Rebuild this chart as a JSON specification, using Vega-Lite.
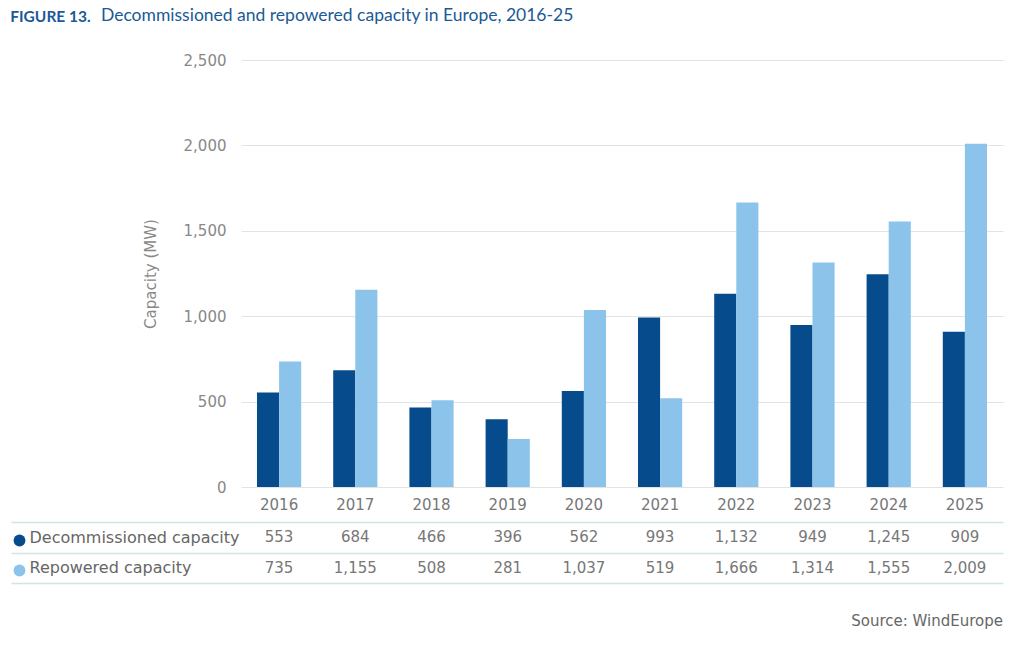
{
  "$schema": "https://vega.github.io/schema/vega-lite/v6.json",
  "padding": {"left": 10, "top": 6, "right": 20, "bottom": 5},
  "background": "white",
  "config": {"font": "DejaVu Sans", "view": {"stroke": null}, "concat": {"spacing": 2}},
  "title": {"text": "FIGURE 13.", "anchor": "start", "frame": "bounds", "font": "Lato", "fontSize": 15.5, "fontWeight": "bold", "color": "#1b5a96", "offset": -18.5},
  "data": {"values": [
    {"year": "2016", "series": "Decommissioned capacity", "value": 553},
    {"year": "2017", "series": "Decommissioned capacity", "value": 684},
    {"year": "2018", "series": "Decommissioned capacity", "value": 466},
    {"year": "2019", "series": "Decommissioned capacity", "value": 396},
    {"year": "2020", "series": "Decommissioned capacity", "value": 562},
    {"year": "2021", "series": "Decommissioned capacity", "value": 993},
    {"year": "2022", "series": "Decommissioned capacity", "value": 1132},
    {"year": "2023", "series": "Decommissioned capacity", "value": 949},
    {"year": "2024", "series": "Decommissioned capacity", "value": 1245},
    {"year": "2025", "series": "Decommissioned capacity", "value": 909},
    {"year": "2016", "series": "Repowered capacity", "value": 735},
    {"year": "2017", "series": "Repowered capacity", "value": 1155},
    {"year": "2018", "series": "Repowered capacity", "value": 508},
    {"year": "2019", "series": "Repowered capacity", "value": 281},
    {"year": "2020", "series": "Repowered capacity", "value": 1037},
    {"year": "2021", "series": "Repowered capacity", "value": 519},
    {"year": "2022", "series": "Repowered capacity", "value": 1666},
    {"year": "2023", "series": "Repowered capacity", "value": 1314},
    {"year": "2024", "series": "Repowered capacity", "value": 1555},
    {"year": "2025", "series": "Repowered capacity", "value": 2009}
  ]},
  "vconcat": [
    {
      "width": 762,
      "height": 427,
      "title": {"text": "Decommissioned and repowered capacity in Europe, 2016-25", "anchor": "start", "frame": "group", "dx": -140, "font": "Lato", "fontSize": 17.5, "fontWeight": "normal", "color": "#1b5a96", "offset": 29},
      "mark": {"type": "bar"},
      "encoding": {
        "x": {"field": "year", "type": "nominal", "scale": {"paddingInner": 0.42, "paddingOuter": 0.21},
              "axis": {"title": null, "labelAngle": 0, "domain": false, "ticks": false, "labelFontSize": 15, "labelColor": "#777", "labelPadding": 10}},
        "xOffset": {"field": "series", "type": "nominal", "scale": {"paddingInner": 0, "paddingOuter": 0}},
        "y": {"field": "value", "type": "quantitative", "scale": {"domain": [0, 2500]},
              "axis": {"values": [0, 500, 1000, 1500, 2000, 2500], "format": ",.0f", "title": "Capacity (MW)", "domain": false, "ticks": false, "labelPadding": 15, "gridColor": "#e3e3e3", "labelFontSize": 15, "labelColor": "#888", "titleFontSize": 15, "titleColor": "#888", "titleFontWeight": "normal", "titlePadding": 25}},
        "color": {"field": "series", "type": "nominal",
                  "scale": {"domain": ["Decommissioned capacity", "Repowered capacity"], "range": ["#064b8b", "#8cc3ea"]},
                  "legend": {"orient": "none", "legendX": -229, "legendY": 473, "title": null, "symbolType": "circle", "symbolSize": 140, "symbolStrokeWidth": 0, "labelExpr": "''", "labelFontSize": 15, "rowPadding": 14}}
      }
    },
    {
      "width": 762,
      "height": 61,
      "title": {"text": "Source: WindEurope", "orient": "bottom", "anchor": "end", "frame": "group", "fontSize": 15, "fontWeight": "normal", "color": "#666", "offset": 30},
      "mark": {"type": "text", "fontSize": 15, "color": "#777"},
      "encoding": {
        "x": {"field": "year", "type": "nominal", "scale": {"paddingInner": 0.42, "paddingOuter": 0.21}, "axis": null},
        "y": {"field": "series", "type": "nominal", "scale": {"domain": ["Decommissioned capacity", "Repowered capacity"], "paddingInner": 0, "paddingOuter": 0},
              "axis": {"title": null, "domain": false, "grid": true, "gridColor": "#cfe5de", "gridWidth": 1.5, "tickBand": "extent", "ticks": true, "tickSize": 230, "tickColor": "#cfe5de", "tickWidth": 1.5, "labelAlign": "left", "labelPadding": -18, "labelFontSize": 16, "labelColor": "#666", "labelLimit": 300}},
        "text": {"field": "value", "type": "quantitative", "format": ",.0f"}
      }
    }
  ]
}
